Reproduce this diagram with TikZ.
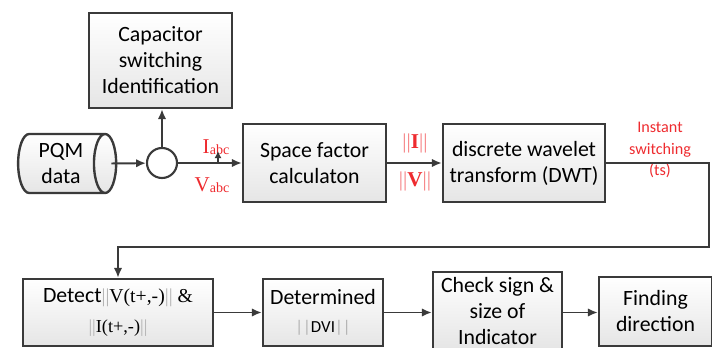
\documentclass[tikz,border=0pt]{standalone}
\usepackage{fontspec}
\setmainfont{Carlito}
\newfontfamily\tnr{Liberation Serif}
\usetikzlibrary{arrows.meta,shapes.geometric}
\definecolor{boxline}{HTML}{3A3A3A}
\definecolor{sigred}{HTML}{EE2B2F}
\tikzset{block/.style={draw=boxline,line width=1.7pt,top color=white,bottom color=black!10,align=center,inner sep=2pt,font=\fontsize{15.5}{18.5}\selectfont},
  flow/.style={draw=boxline,line width=1.4pt,-{Latex[length=7pt,width=6pt]}},
  sig/.style={text=sigred,inner sep=0pt,font=\tnr\fontsize{15}{17}\selectfont},
  note/.style={text=sigred,align=center,inner sep=0pt,font=\fontsize{11.5}{15.5}\selectfont},}

\begin{document}
\begin{tikzpicture}[x=0.025cm,y=-0.025cm]
    \useasboundingbox (0,0) rectangle (712,348);
    \node[block] (cap) at (160.5,60.5) [minimum width=3.575cm,minimum height=2.375cm] {Capacitor\\switching\\Identification};
    \node[block,shape=cylinder,shape aspect=0.55,inner sep=0pt] (pqm) at (61,163.5) [minimum width=1.475cm,minimum height=2.45cm] {PQM\\data};
    \node[draw=boxline,line width=1.5pt,circle,fill=white,minimum size=0.75cm,inner sep=0pt] (circ) at (162,163) {};
    \node[block] (sfc) at (314.5,163) [minimum width=3.575cm,minimum height=1.95cm] {Space factor\\calculaton};
    \node[block] (dwt) at (524,163) [minimum width=4.05cm,minimum height=1.95cm] {discrete wavelet\\transform (DWT)};
    \node[block] (det) at (118,312.5) [minimum width=4.75cm,minimum height=1.675cm] {Detect{\tnr\fontsize{14}{16}\selectfont\color{black!30}||}{\tnr\fontsize{14}{16}\selectfont V(t+,-)\color{black!30}||} {\tnr\fontsize{14}{16}\selectfont\&}\\[3pt]{\tnr\fontsize{13}{15}\selectfont\color{black!30}||\color{black}I(t+,-)\color{black!30}||}};
    \node[block] (dvi) at (323,312.5) [minimum width=3.0cm,minimum height=1.675cm] {Determined\\[1pt]{\fontsize{12}{13}\selectfont\color{black!30}||\color{black}DVI\color{black!30}||}};
    \node[block] (chk) at (497.5,311) [minimum width=3.225cm,minimum height=1.95cm] {Check sign \&\\size of\\Indicator};
    \node[block] (fnd) at (655.5,311.5) [minimum width=2.825cm,minimum height=1.725cm] {Finding\\direction};

    % signal labels
    \node[sig] (ilab) at (216,147) {I\raisebox{-1pt}{\fontsize{10}{10}\selectfont abc}};
    \node[sig] (vlab) at (212,185) {V\raisebox{-1pt}{\fontsize{10}{10}\selectfont abc}};
    \node[sig] (inorm) at (415,143) {{\color{sigred!60}||}\textbf{I}{\color{sigred!60}||}};
    \node[sig] (vnorm) at (415,181) {{\color{sigred!60}||}\textbf{V}{\color{sigred!60}||}};
    \node[note] (ts) at (660,150) {Instant\\switching\\(ts)};

    \coordinate (itap) at (218,163);
    \coordinate (itip) at (218,151);
    \coordinate (turn) at (709,247);

    \draw[flow] ([xshift=-0.15cm]pqm.east) -- (circ);
    \draw[flow] (circ.north) -- (circ |- cap.south);
    \draw[flow] (circ) -- (sfc);
    \draw[draw=boxline,line width=1.2pt,-{Latex[length=5pt,width=5pt]}] (itap) -- (itip);
    \draw[flow] (sfc) -- (dwt);
    \draw[flow] (dwt.east) -| (turn) -| (det.north);
    \draw[flow] (det) -- (dvi);
    \draw[flow] (dvi) -- (chk.west |- dvi);
    \draw[flow] (chk.east |- dvi) -- (fnd.west |- dvi);
\end{tikzpicture}
\end{document}
